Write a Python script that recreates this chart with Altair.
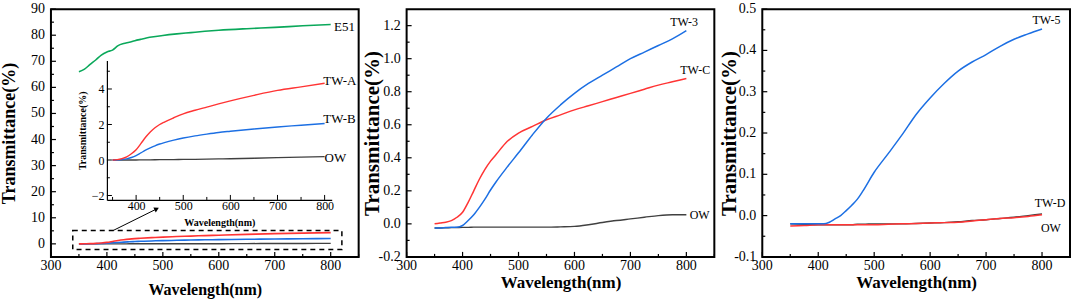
import altair as alt
import pandas as pd

FONT = "Liberation Serif"
GREEN = "#0aa85a"
RED = "#ff3434"
BLUE = "#1c6fe3"
BLACK = "#404040"

# ---------------- data: panel 1 (E51 and inset) ----------------
nm_a = [350, 360, 370, 380, 390, 400, 410, 420, 430, 440, 450, 460, 480, 500, 525, 550, 575, 600, 650, 700, 750, 800]
e51 = [66.0, 67.0, 68.8, 70.5, 72.4, 73.6, 74.3, 76.0, 76.8, 77.3, 77.9, 78.4, 79.3, 79.9, 80.5, 81.0, 81.5, 81.9, 82.5, 83.0, 83.6, 84.1]
tw_a = [0.0, 0.02, 0.08, 0.18, 0.35, 0.58, 0.92, 1.28, 1.58, 1.82, 2.0, 2.14, 2.38, 2.6, 2.8, 2.98, 3.16, 3.33, 3.64, 3.92, 4.12, 4.32]
tw_b = [0.0, 0.0, 0.02, 0.06, 0.14, 0.25, 0.4, 0.55, 0.68, 0.8, 0.9, 0.98, 1.12, 1.24, 1.36, 1.46, 1.55, 1.62, 1.75, 1.86, 1.96, 2.06]
ow_a = [0.0, 0.0, 0.0, 0.0, 0.0, 0.0, 0.005, 0.01, 0.012, 0.015, 0.018, 0.02, 0.025, 0.03, 0.04, 0.05, 0.06, 0.07, 0.1, 0.13, 0.16, 0.19]

# ---------------- data: panel 2 ----------------
nm_b = [350, 360, 370, 380, 390, 400, 410, 420, 430, 440, 450, 460, 480, 500, 525, 550, 575, 600, 625, 650, 675, 700, 725, 750, 775, 800]
tw_3 = [-0.025, -0.025, -0.022, -0.02, -0.02, -0.01, 0.02, 0.055, 0.1, 0.15, 0.205, 0.255, 0.345, 0.43, 0.54, 0.64, 0.72, 0.79, 0.85, 0.9, 0.95, 1.0, 1.04, 1.08, 1.12, 1.17]
tw_c = [0.0, 0.005, 0.01, 0.02, 0.04, 0.07, 0.13, 0.2, 0.27, 0.33, 0.38, 0.42, 0.5, 0.55, 0.59, 0.63, 0.66, 0.69, 0.715, 0.74, 0.765, 0.79, 0.815, 0.84, 0.86, 0.88]
ow_b = [-0.025, -0.025, -0.024, -0.023, -0.022, -0.021, -0.021, -0.02, -0.02, -0.02, -0.02, -0.02, -0.02, -0.02, -0.02, -0.02, -0.018, -0.015, -0.005, 0.008, 0.02, 0.03, 0.04, 0.05, 0.055, 0.055]

# ---------------- data: panel 3 ----------------
nm_c = [350, 375, 400, 410, 420, 430, 440, 450, 460, 470, 480, 500, 525, 550, 575, 600, 625, 650, 675, 700, 725, 750, 775, 800]
tw_5 = [-0.02, -0.02, -0.02, -0.02, -0.016, -0.008, 0.0, 0.012, 0.025, 0.04, 0.06, 0.105, 0.15, 0.196, 0.245, 0.285, 0.32, 0.35, 0.372, 0.39, 0.41, 0.427, 0.44, 0.452]
tw_d = [-0.025, -0.024, -0.022, -0.022, -0.022, -0.022, -0.022, -0.022, -0.022, -0.022, -0.022, -0.022, -0.021, -0.02, -0.019, -0.018, -0.017, -0.016, -0.013, -0.01, -0.007, -0.005, -0.002, 0.002]
ow_c = [-0.02, -0.021, -0.022, -0.022, -0.022, -0.022, -0.022, -0.022, -0.022, -0.021, -0.021, -0.02, -0.02, -0.02, -0.019, -0.018, -0.017, -0.015, -0.012, -0.01, -0.007, -0.004, 0.0, 0.004]

# tick values
x_major = [300, 400, 500, 600, 700, 800]
x_minor = [350, 450, 550, 650, 750, 850]
y1_major = [0, 10, 20, 30, 40, 50, 60, 70, 80, 90]
y1_minor = [-5, 5, 15, 25, 35, 45, 55, 65, 75, 85]
y2_major = [-0.2, 0.0, 0.2, 0.4, 0.6, 0.8, 1.0, 1.2]
y2_minor = [-0.1, 0.1, 0.3, 0.5, 0.7, 0.9, 1.1]
y3_major = [-0.1, 0.0, 0.1, 0.2, 0.3, 0.4, 0.5]
y3_minor = [-0.05, 0.05, 0.15, 0.25, 0.35, 0.45]
in_x_major = [400, 500, 600, 700, 800]
in_x_minor = [350, 450, 550, 650, 750]
in_y_major = [-2, 0, 2, 4]
in_y_minor = [-1, 1, 3, 5]

# annotation anchors (data coordinates)
lab1_main = {"text": ["E51"], "nm": [806], "val": [83.3]}
lab1_inset = {"text": ["TW-A", "TW-B", "OW"], "nm": [797, 797, 800], "val": [4.45, 2.32, 0.1]}
lab2 = {"text": ["TW-3", "TW-C", "OW"], "nm": [771, 789, 806], "val": [1.22, 0.93, 0.055]}
lab3 = {"text": ["TW-5", "TW-D", "OW"], "nm": [783, 787, 798], "val": [0.474, 0.031, -0.03]}
box1 = {"nm": [339], "nm2": [820], "val": [-2.2], "val2": [5.1]}
arrow1 = {"nm": [411], "nm2": [489], "val": [5.1], "val2": [13.4]}

W, H = 308, 248


def line(nm, vals, color, xs, ys, width=1.5, xax=None, yax=None):
    xkw = {"scale": xs}
    ykw = {"scale": ys}
    if xax is not None:
        xkw["axis"] = xax
    if yax is not None:
        ykw["axis"] = yax
    df = pd.DataFrame({"nm": nm, "val": vals})
    return alt.Chart(df).mark_line(strokeWidth=width, interpolate="monotone", color=color).encode(
        x=alt.X("nm:Q", **xkw), y=alt.Y("val:Q", **ykw))


def frame_ticks(xs, ys, xmaj, xmin, ymaj, ymin, yfmt):
    out = []
    for vals, ln in ((xmaj, 5), (xmin, 3)):
        out.append(alt.Chart(pd.DataFrame({"nm": vals})).mark_rule(color="black", strokeWidth=1.2).encode(
            x=alt.X("nm:Q", scale=xs), y=alt.value(H), y2=alt.value(H - ln)))
    for vals, ln in ((ymaj, 5), (ymin, 3)):
        out.append(alt.Chart(pd.DataFrame({"val": vals})).mark_rule(color="black", strokeWidth=1.2).encode(
            y=alt.Y("val:Q", scale=ys), x=alt.value(0), x2=alt.value(ln)))
    # tick labels
    out.append(alt.Chart(pd.DataFrame({"nm": xmaj, "lab": [str(v) for v in xmaj]})).mark_text(
        align="center", baseline="top", font=FONT, fontSize=14, color="black").encode(
        x=alt.X("nm:Q", scale=xs), y=alt.value(H + 2), text="lab:N"))
    out.append(alt.Chart(pd.DataFrame({"val": ymaj, "lab": [format(v, yfmt) for v in ymaj]})).mark_text(
        align="right", baseline="middle", font=FONT, fontSize=14, color="black").encode(
        y=alt.Y("val:Q", scale=ys), x=alt.value(-6), text="lab:N"))
    return out


def texts(d, xs, ys, size=12):
    return alt.Chart(pd.DataFrame(d)).mark_text(align="left", baseline="middle", font=FONT, fontSize=size, color="black").encode(
        x=alt.X("nm:Q", scale=xs), y=alt.Y("val:Q", scale=ys), text="text:N")


def xaxis(title_pad, tsize):
    return alt.Axis(labels=False, ticks=False, tickSize=0, domain=False, grid=False,
                    title="Wavelength(nm)", titleFont=FONT, titleFontSize=tsize, titleFontWeight="bold",
                    titleColor="black", titlePadding=title_pad)


def yaxis(tsize, title_pad):
    return alt.Axis(labels=False, ticks=False, tickSize=0, domain=False, grid=False,
                    title="Transmittance(%)", titleFont=FONT, titleFontSize=tsize, titleFontWeight="bold",
                    titleColor="black", titlePadding=title_pad)


# ---------------- panel 1 ----------------
xs1 = alt.Scale(domain=[300, 850], nice=False, zero=False)
ys1 = alt.Scale(domain=[-5, 90], nice=False, zero=False)
main1 = alt.layer(
    line(nm_a, e51, GREEN, xs1, ys1, 1.6, xaxis(25, 16), yaxis(18, 32)),
    line(nm_a, ow_a, BLACK, xs1, ys1, 1.4),
    line(nm_a, tw_b, BLUE, xs1, ys1, 1.6),
    line(nm_a, tw_a, RED, xs1, ys1, 1.6),
    *frame_ticks(xs1, ys1, x_major, x_minor, y1_major, y1_minor, "d"),
    alt.Chart(pd.DataFrame(box1)).mark_rect(fillOpacity=0, stroke="black", strokeWidth=1.5, strokeDash=[5, 4]).encode(
        x=alt.X("nm:Q", scale=xs1), x2="nm2:Q", y=alt.Y("val:Q", scale=ys1), y2="val2:Q"),
    alt.Chart(pd.DataFrame(arrow1)).mark_rule(color="black", strokeWidth=1).encode(
        x=alt.X("nm:Q", scale=xs1), x2="nm2:Q", y=alt.Y("val:Q", scale=ys1), y2="val2:Q"),
    alt.Chart(pd.DataFrame(arrow1)).mark_point(shape="triangle-up", filled=True, size=30, angle=64, color="black", opacity=1).encode(
        x=alt.X("nm2:Q", scale=xs1), y=alt.Y("val2:Q", scale=ys1)),
    texts(lab1_main, xs1, ys1, 13),
)

INX = [338, 815]
INY = [-2.25, 5.6]
xsi = alt.Scale(domain=INX, range=[56, 281], nice=False, zero=False)
ysi = alt.Scale(domain=INY, range=[191, 51.5], nice=False, zero=False)
in_xaxis = alt.Axis(orient="bottom", offset=-57, values=in_x_major, ticks=False, tickSize=0, domain=True, domainColor="black",
                    domainWidth=1.2, grid=False, labelPadding=1, labelOverlap=False, labelFont=FONT, labelFontSize=12,
                    labelColor="black", title="Wavelength(nm)", titleFont=FONT, titleFontSize=10, titleFontWeight="bold",
                    titleColor="black", titlePadding=6)
in_yaxis = alt.Axis(orient="left", offset=-56, values=in_y_major, ticks=False, tickSize=0, domain=True, domainColor="black",
                    domainWidth=1.2, grid=False, labelPadding=3, labelOverlap=False, labelFont=FONT, labelFontSize=12,
                    labelColor="black", title="Transmittance(%)", titleFont=FONT, titleFontSize=10, titleFontWeight="bold",
                    titleColor="black", titlePadding=4)
inset_ticks = []
for vals, ln in ((in_x_major, 5), (in_x_minor, 3)):
    inset_ticks.append(alt.Chart(pd.DataFrame({"nm": vals})).mark_rule(color="black", strokeWidth=1).encode(
        x=alt.X("nm:Q", scale=xsi), y=alt.value(191), y2=alt.value(191 - ln)))
for vals, ln in ((in_y_major, 5), (in_y_minor, 3)):
    inset_ticks.append(alt.Chart(pd.DataFrame({"val": vals})).mark_rule(color="black", strokeWidth=1).encode(
        y=alt.Y("val:Q", scale=ysi), x=alt.value(56), x2=alt.value(56 + ln)))
inset = alt.layer(
    line(nm_a, ow_a, BLACK, xsi, ysi, 1.3, in_xaxis, in_yaxis),
    line(nm_a, tw_b, BLUE, xsi, ysi, 1.4),
    line(nm_a, tw_a, RED, xsi, ysi, 1.4),
    *inset_ticks,
    texts(lab1_inset, xsi, ysi, 13),
)

panel1 = alt.layer(main1, inset).resolve_scale(x="independent", y="independent").properties(width=W, height=H)

# ---------------- panel 2 ----------------
xs2 = alt.Scale(domain=[300, 850], nice=False, zero=False)
ys2 = alt.Scale(domain=[-0.2, 1.3], nice=False, zero=False)
panel2 = alt.layer(
    line(nm_b, ow_b, BLACK, xs2, ys2, 1.4, xaxis(18, 17), yaxis(21, 24)),
    line(nm_b, tw_c, RED, xs2, ys2, 1.5),
    line(nm_b, tw_3, BLUE, xs2, ys2, 1.5),
    *frame_ticks(xs2, ys2, x_major, x_minor, y2_major, y2_minor, ".1f"),
    texts(lab2, xs2, ys2, 12),
).properties(width=W, height=H)

# ---------------- panel 3 ----------------
xs3 = alt.Scale(domain=[300, 850], nice=False, zero=False)
ys3 = alt.Scale(domain=[-0.1, 0.5], nice=False, zero=False)
panel3 = alt.layer(
    line(nm_c, ow_c, BLACK, xs3, ys3, 1.4, xaxis(18, 17), yaxis(21, 23)),
    line(nm_c, tw_d, RED, xs3, ys3, 1.5),
    line(nm_c, tw_5, BLUE, xs3, ys3, 1.5),
    *frame_ticks(xs3, ys3, x_major, x_minor, y3_major, y3_minor, ".1f"),
    texts(lab3, xs3, ys3, 12),
).properties(width=W, height=H)

chart = alt.HConcatChart(hconcat=[panel1, panel2, panel3], spacing=48, bounds="flush").properties(
    padding={"left": 0, "top": 1, "right": 0, "bottom": 0}, background="white"
).configure_view(stroke="black", strokeWidth=2)

chart.save("out.html", embed_options={"renderer": "svg", "actions": False})
